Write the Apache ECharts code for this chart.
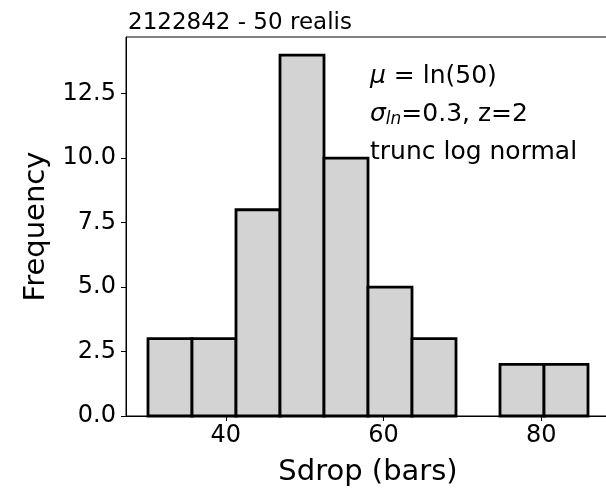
<!DOCTYPE html>
<html><head><meta charset="utf-8">
<script src="https://cdn.jsdelivr.net/npm/echarts@6/dist/echarts.min.js"></script>
<style>html,body{margin:0;padding:0;background:#fff}#c{width:606px;height:489px}</style>
</head><body><div id="c"></div>
<script>
const binEdges = [30.13, 35.71, 41.29, 46.87, 52.45, 58.03, 63.61, 69.19, 74.77, 80.35, 85.93];
const counts = [3, 3, 8, 14, 10, 5, 3, 0, 2, 2];
const xTicks = [40, 60, 80];
const yTicks = [0, 2.5, 5, 7.5, 10, 12.5];
const titleText = '2122842 - 50 realis';
const xName = 'Sdrop (bars)';
const yName = 'Frequency';

const data = counts.map((c, i) => [binEdges[i], binEdges[i + 1], c]);
const FONT = 'DejaVu Sans';
const chart = echarts.init(document.getElementById('c'), null, {renderer: 'canvas'});
chart.setOption({
  animation: false,
  backgroundColor: '#fff',
  textStyle: {fontFamily: FONT, color: '#000'},
  title: {text: titleText, left: 123, top: 7,
    textStyle: {fontFamily: FONT, fontSize: 23, fontWeight: 'normal', color: '#000'}},
  grid: {left: 126, top: 37, bottom: 73, width: 484, outerBoundsMode: 'none', containLabel: false,
    show: true, borderColor: '#000', borderWidth: 1, backgroundColor: 'transparent'},
  xAxis: {type: 'value', min: 27.34, max: 88.72,
    name: xName, nameLocation: 'middle', nameGap: 42,
    nameTextStyle: {fontFamily: FONT, fontSize: 29, color: '#000'},
    axisLine: {show: true, lineStyle: {color: '#000', width: 1}},
    axisTick: {show: true, length: 5, lineStyle: {color: '#000'}, customValues: xTicks},
    axisLabel: {fontFamily: FONT, fontSize: 24, color: '#000', margin: 8, customValues: xTicks},
    splitLine: {show: false}},
  yAxis: {type: 'value', min: 0, max: 14.7, interval: 2.5,
    name: yName, nameLocation: 'middle', nameGap: 75, nameRotate: 90,
    nameTextStyle: {fontFamily: FONT, fontSize: 29, color: '#000'},
    axisLine: {show: true, lineStyle: {color: '#000', width: 1}},
    axisTick: {show: true, length: 5, lineStyle: {color: '#000'}, customValues: yTicks},
    axisLabel: {fontFamily: FONT, fontSize: 24, color: '#000', margin: 10, customValues: yTicks,
      formatter: v => v.toFixed(1)},
    splitLine: {show: false}},
  series: [{
    type: 'custom',
    data: data,
    encode: {x: [0, 1], y: 2},
    renderItem: function (params, api) {
      if (api.value(2) <= 0) return null;
      const p0 = api.coord([api.value(0), api.value(2)]);
      const p1 = api.coord([api.value(1), 0]);
      return {type: 'rect',
        shape: {x: p0[0], y: p0[1], width: p1[0] - p0[0], height: p1[1] - p0[1]},
        style: {fill: '#d3d3d3', stroke: '#000', lineWidth: 2.8}};
    }
  }],
  graphic: [{
    type: 'text', left: 370, top: 57,
    style: {
      text: '{i|μ} = ln(50)\n{i|σ}{s|ln}=0.3, z=2\ntrunc log normal',
      fontFamily: FONT, fontSize: 25, fill: '#000', lineHeight: 38,
      rich: {
        i: {fontFamily: FONT, fontStyle: 'italic', fontSize: 25, lineHeight: 38},
        s: {fontFamily: FONT, fontStyle: 'italic', fontSize: 17, lineHeight: 38, padding: [12, 0, 0, 0]}
      }
    }
  }]
});
</script></body></html>
